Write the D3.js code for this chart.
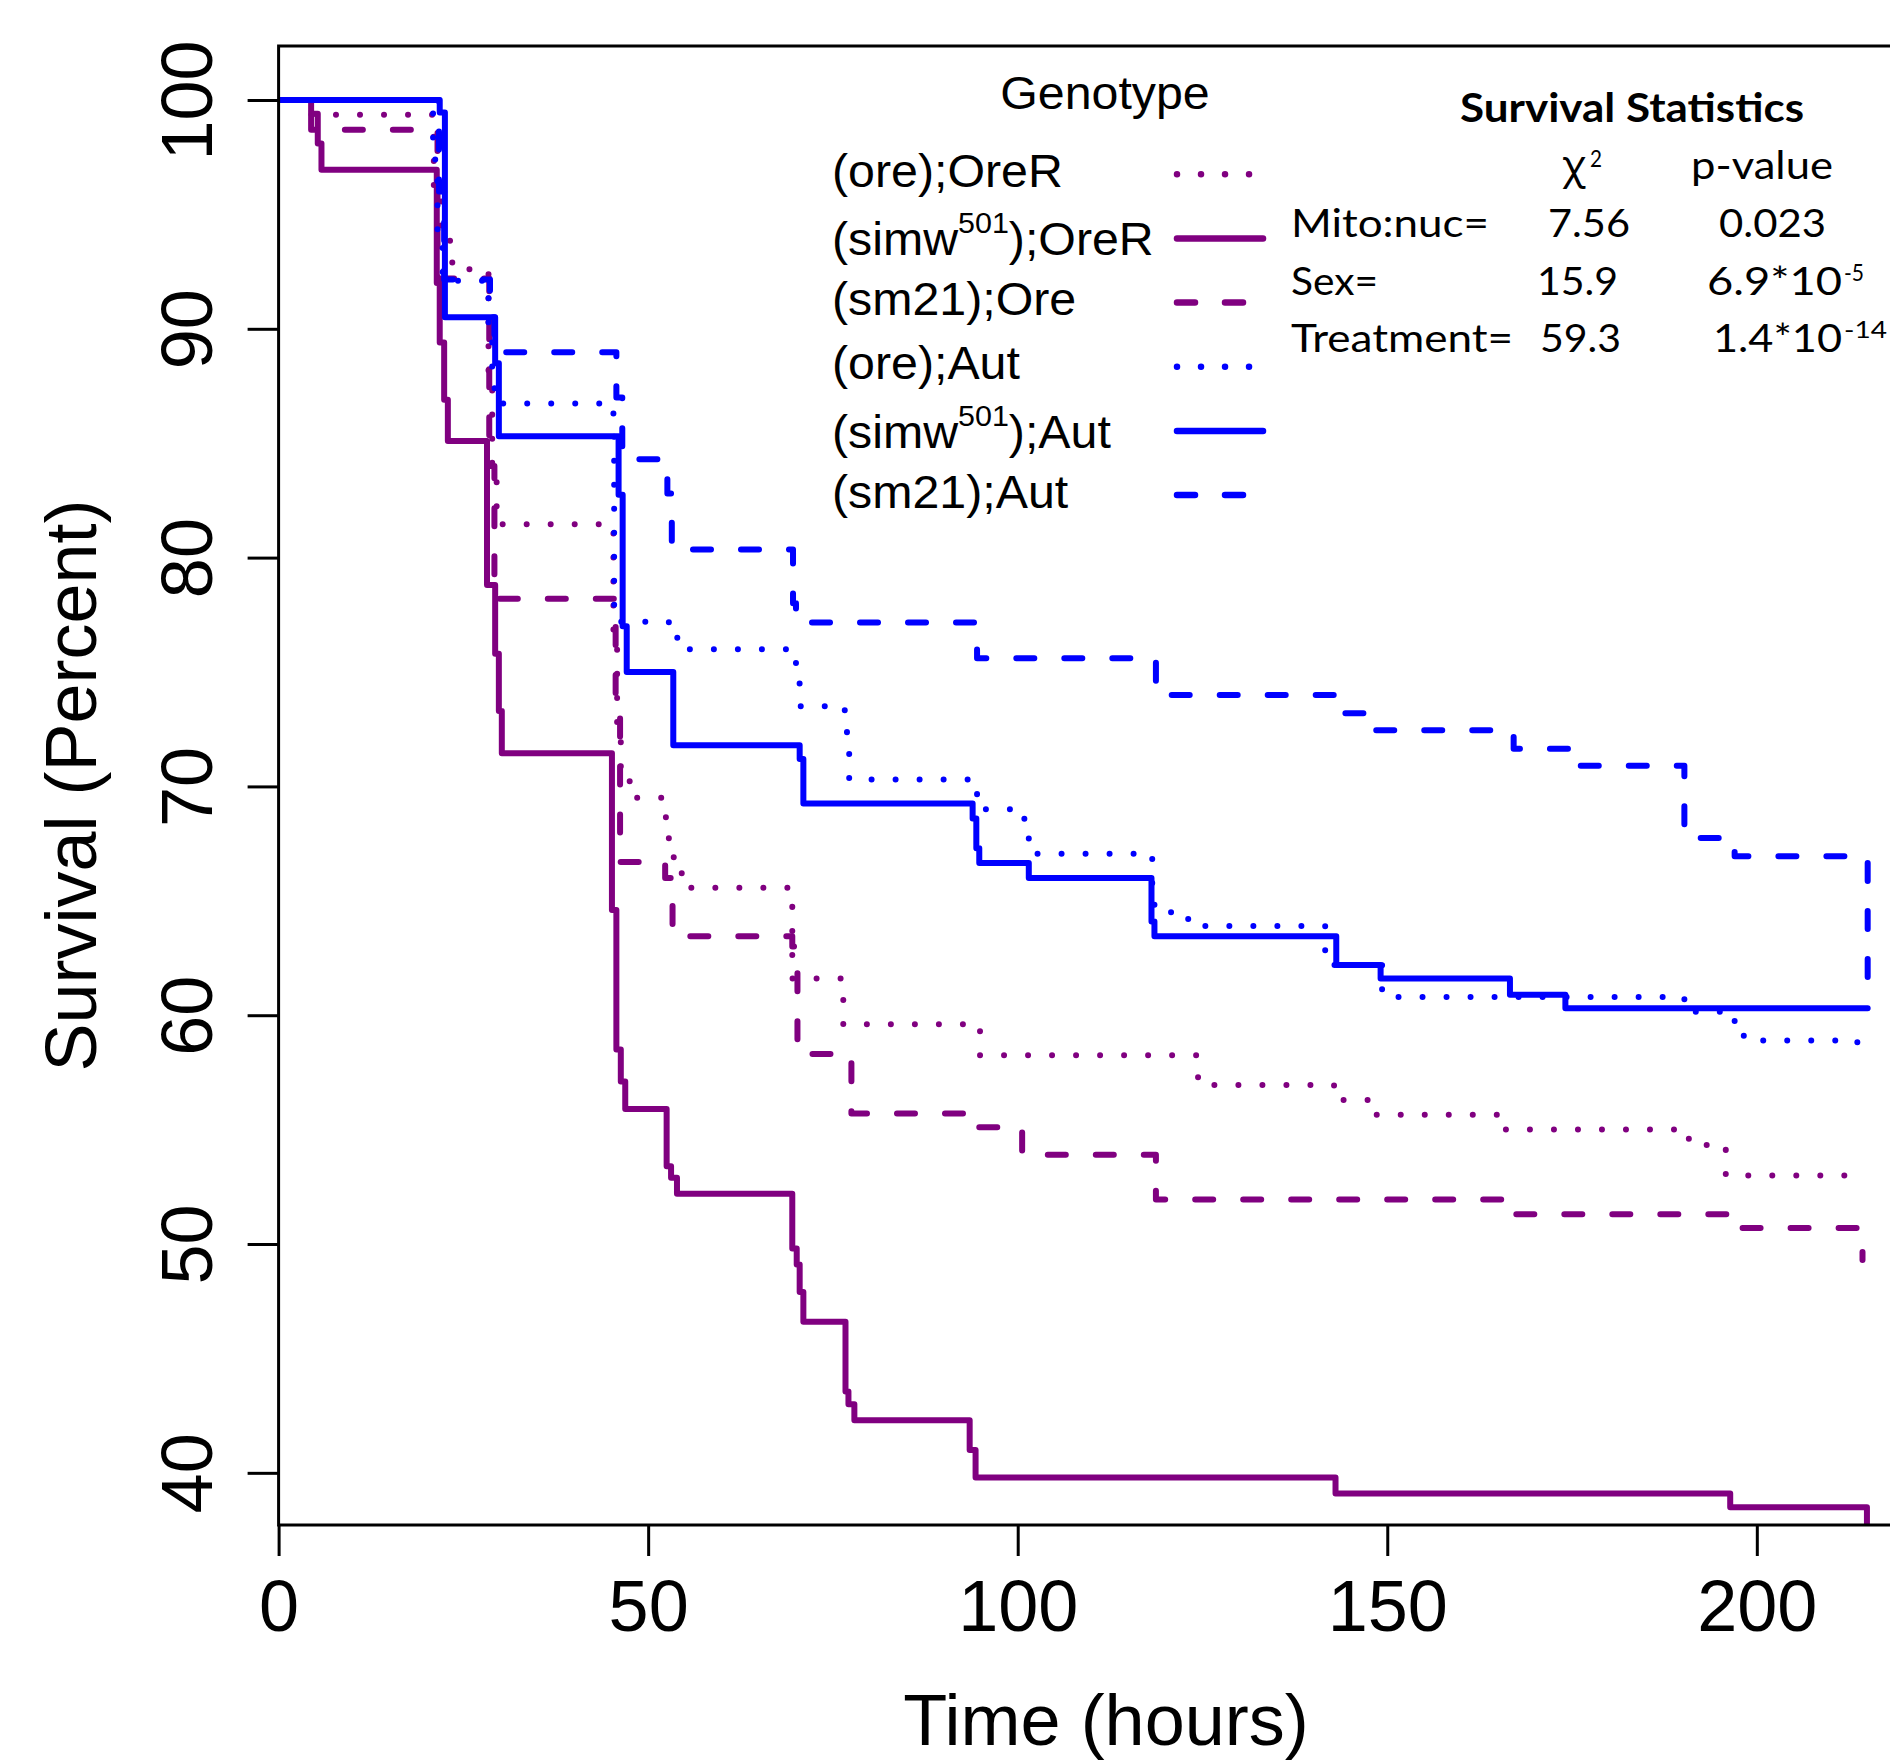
<!DOCTYPE html>
<html>
<head>
<meta charset="utf-8">
<script src="https://cdn.jsdelivr.net/npm/d3@7/dist/d3.min.js"></script>
<style>
  html, body { margin: 0; padding: 0; background: #ffffff; }
  svg { display: block; }
</style>
</head>
<body>
<div id="chart"></div>
<script>
// Kaplan-Meier survival estimates, [time (hours), survival (%)] at each step
const oreOreR = [[0,100],[4.4,99.36],[21.0,96.0],[22.0,93.85],[23.5,92.6],[28.4,88.0],[28.9,84.0],[29.5,81.46],
  [45.3,76.0],[45.8,72.0],[46.3,70.3],[47.5,69.5],[52.4,68.5],[52.8,66.9],[53.5,66.2],[55.0,65.57],
  [69.5,61.6],[76.4,59.6],[94.9,58.25],[124.4,56.95],[142.8,56.3],[148.5,55.65],[165.0,55.0],
  [189.2,54.6],[191.0,54.33],[195.8,53.0],[214.3,53.0]];
const simwOreR = [[0,100],[4.4,99.4],[5.3,98.1],[5.8,96.95],[21.4,92.0],[21.8,89.4],[22.4,86.9],[22.9,85.1],
  [28.2,78.8],[29.3,75.8],[29.8,73.3],[30.2,71.45],[45.1,64.6],[45.7,58.5],[46.3,57.1],[46.9,55.9],
  [52.5,53.4],[53.1,52.9],[53.9,52.2],[69.5,49.8],[70.1,49.1],[70.5,47.9],[71.0,46.6],[76.7,43.55],
  [77.1,43.0],[77.9,42.3],[93.5,41.0],[94.3,39.8],[143.0,39.1],[196.4,38.5],[214.9,37.6]];
const sm21Ore = [[0,100],[4.4,98.7],[21.5,92.2],[28.5,84.0],[29.2,78.2],[45.6,73.0],[46.2,66.7],[52.3,66.0],
  [53.3,63.45],[69.5,63.0],[70.2,58.3],[77.5,55.7],[94.0,55.1],[100.6,53.9],[118.7,51.95],[165.5,51.3],
  [196.5,50.7],[214.3,49.3]];
const oreAut = [[0,100],[20.9,97.4],[21.5,94.0],[22.2,92.1],[28.4,89.5],[28.9,87.4],[29.5,86.73],[44.9,86.3],
  [45.4,77.2],[52.8,76.5],[54.0,76.0],[69.5,75.4],[70.0,74.5],[70.6,73.5],[76.6,72.6],[76.9,71.5],
  [77.2,70.3],[93.7,69.7],[94.5,69.0],[100.2,68.7],[100.9,67.8],[101.5,67.06],[118.2,65.5],[118.5,64.5],
  [122.5,64.2],[123.3,63.9],[141.6,62.2],[149.3,60.8],[190.2,60.15],[197.0,59.1],[198.3,58.9],
  [213.6,58.3],[214.8,58.3]];
const simwAut = [[0,100],[21.8,99.45],[22.5,90.5],[29.3,88.5],[29.8,85.3],[46.0,82.75],[46.55,77.0],[47.1,75.0],
  [53.4,71.8],[70.5,71.2],[71.0,69.25],[93.9,68.6],[94.4,67.3],[94.8,66.65],[101.5,66.0],[118.1,64.1],
  [118.5,63.45],[143.1,62.2],[149.1,61.6],[166.6,60.9],[174.1,60.3],[215.0,60.3]];
const sm21Aut = [[0,100],[21.7,96.0],[22.4,92.15],[28.6,90.5],[29.2,88.97],[45.7,87.0],[46.5,84.3],[52.6,82.8],
  [53.2,80.35],[69.6,78.0],[70.0,77.16],[94.5,75.6],[118.7,74.0],[143.0,73.2],[148.5,72.45],[167.1,71.65],
  [174.5,70.9],[190.2,67.75],[197.0,66.95],[215.0,60.4]];

// legend labels: [text, superscript, text after superscript]
const genotypeLabels = [["(ore);OreR"], ["(simw", "501", ");OreR"], ["(sm21);Ore"],
  ["(ore);Aut"], ["(simw", "501", ");Aut"], ["(sm21);Aut"]];

// survival statistics table
const statTerms = ["Mito:nuc=", "Sex=", "Treatment="];
const chiSquare = ["7.56", "15.9", "59.3"];
const pValues = [["0.023"], ["6.9*10", "-5"], ["1.4*10", "-14"]];

const xTicks = [0, 50, 100, 150, 200];
const yTicks = [40, 50, 60, 70, 80, 90, 100];

// ---- drawing ----
const W = 1890, H = 1761;
const PURPLE = "#800080", BLUE = "#0000ff";
const DOTTED = "0.01 24", DASHED = "18 30";
const curves = [
  { data: oreOreR,  color: PURPLE, dash: DOTTED },
  { data: simwOreR, color: PURPLE, dash: null },
  { data: sm21Ore,  color: PURPLE, dash: DASHED },
  { data: oreAut,   color: BLUE,   dash: DOTTED },
  { data: simwAut,  color: BLUE,   dash: null },
  { data: sm21Aut,  color: BLUE,   dash: DASHED }
];

const plot = { left: 278.6, right: 1934.2, top: 46, bottom: 1525 };
const x = d3.scaleLinear().domain([0, 224]).range([plot.left, plot.right]);
const y = d3.scaleLinear().domain([37.72, 102.36]).range([plot.bottom, plot.top]);

const svg = d3.select("#chart").append("svg")
  .attr("width", W).attr("height", H)
  .attr("viewBox", `0 0 ${W} ${H}`);
svg.append("rect").attr("width", W).attr("height", H).attr("fill", "#fff");

const axisFont = "'Liberation Sans', Arial, Helvetica, sans-serif";
const statFont = "Lato, 'Open Sans', sans-serif";

svg.append("clipPath").attr("id", "plot-clip")
  .append("rect")
  .attr("x", plot.left).attr("y", plot.top)
  .attr("width", plot.right - plot.left).attr("height", plot.bottom - plot.top);

// survival curves
const line = d3.line().x(d => x(d[0])).y(d => y(d[1])).curve(d3.curveStepAfter);
const curveLayer = svg.append("g").attr("clip-path", "url(#plot-clip)");
curves.forEach(c => {
  curveLayer.append("path")
    .attr("d", line(c.data))
    .attr("fill", "none")
    .attr("stroke", c.color)
    .attr("stroke-width", 6)
    .attr("stroke-linecap", "round")
    .attr("stroke-linejoin", "round")
    .attr("stroke-dasharray", c.dash);
});

// frame
svg.append("rect")
  .attr("x", plot.left).attr("y", plot.top)
  .attr("width", plot.right - plot.left).attr("height", plot.bottom - plot.top)
  .attr("fill", "none").attr("stroke", "#000").attr("stroke-width", 3);

// x axis
const xAxis = d3.axisBottom(x).tickValues(xTicks).tickSize(31).tickPadding(0).tickFormat(d3.format("d"));
const gx = svg.append("g").attr("transform", `translate(0,${plot.bottom})`).call(xAxis);
gx.select(".domain").remove();
gx.selectAll(".tick line").attr("stroke", "#000").attr("stroke-width", 3);
gx.selectAll(".tick text")
  .attr("y", 105.5).attr("dy", null)
  .attr("font-family", axisFont).attr("font-size", 72).attr("fill", "#000");

// y axis
const yAxis = d3.axisLeft(y).tickValues(yTicks).tickSize(31).tickPadding(0).tickFormat(d3.format("d"));
const gy = svg.append("g").attr("transform", `translate(${plot.left},0)`).call(yAxis);
gy.select(".domain").remove();
gy.selectAll(".tick line").attr("stroke", "#000").attr("stroke-width", 3);
gy.selectAll(".tick text")
  .attr("x", null).attr("dy", null)
  .attr("text-anchor", "middle")
  .attr("transform", `translate(${212 - plot.left},0) rotate(-90)`)
  .attr("font-family", axisFont).attr("font-size", 72).attr("fill", "#000");

// axis titles
svg.append("text")
  .attr("x", 1106).attr("y", 1745)
  .attr("text-anchor", "middle")
  .attr("font-family", axisFont).attr("font-size", 72)
  .text("Time (hours)");
svg.append("text")
  .attr("transform", `translate(96,${(plot.top + plot.bottom) / 2}) rotate(-90)`)
  .attr("text-anchor", "middle")
  .attr("font-family", axisFont).attr("font-size", 72)
  .text("Survival (Percent)");

// legend (text is set slightly wide)
const legend = svg.append("g").attr("font-family", axisFont).attr("font-size", 46);
const WIDEN = 1.05;
legend.append("text")
  .attr("transform", `translate(1105,109.3) scale(${WIDEN},1)`)
  .attr("text-anchor", "middle")
  .text("Genotype");
genotypeLabels.forEach((lab, i) => {
  const ly = 174.3 + i * 64.15;
  const hasSup = lab.length > 1;
  const t = legend.append("text")
    .attr("transform", `translate(832,${ly + (hasSup ? 17 : 12.5)}) scale(${WIDEN},1)`);
  t.append("tspan").text(lab[0]);
  if (hasSup) {
    t.append("tspan").attr("dy", -22).attr("font-size", 29).text(lab[1]);
    t.append("tspan").attr("dy", 22).text(lab[2]);
  }
  legend.append("line")
    .attr("x1", 1177).attr("x2", 1263)
    .attr("y1", ly).attr("y2", ly)
    .attr("stroke", curves[i].color)
    .attr("stroke-width", 6.5)
    .attr("stroke-linecap", "round")
    .attr("stroke-dasharray", curves[i].dash);
});

// statistics table
const stats = svg.append("g").attr("font-family", statFont).attr("fill", "#000");
function cell(txt, xPos, yPos, width, size, weight) {
  return stats.append("text")
    .attr("x", xPos).attr("y", yPos)
    .attr("font-size", size)
    .attr("font-weight", weight || 400)
    .attr("textLength", width)
    .attr("lengthAdjust", "spacingAndGlyphs")
    .text(txt);
}
cell("Survival Statistics", 1460, 122, 344, 40, 700);
stats.append("text")
  .attr("x", 1562).attr("y", 179)
  .attr("font-family", "'Noto Sans', 'DejaVu Sans', sans-serif")
  .attr("font-size", 40)
  .text("\u03c7");
cell("2", 1590, 167, 12, 24);
cell("p-value", 1691, 179, 142, 38);

const rowY = [237, 295.4, 352];
const termW = [198, 87, 222];
const chiX = [1548, 1537, 1540];
const chiW = [82, 81, 81];
const pX = [1719, 1707, 1713];
const pW = [107, 135, 129];
const supW = [0, 20, 43];
statTerms.forEach((term, i) => {
  cell(term, 1291, rowY[i], termW[i], 38);
  cell(chiSquare[i], chiX[i], rowY[i], chiW[i], 38);
  cell(pValues[i][0], pX[i], rowY[i], pW[i], 38);
  if (pValues[i][1]) cell(pValues[i][1], 1844, rowY[i] - 14, supW[i], 24);
});
</script>
</body>
</html>
